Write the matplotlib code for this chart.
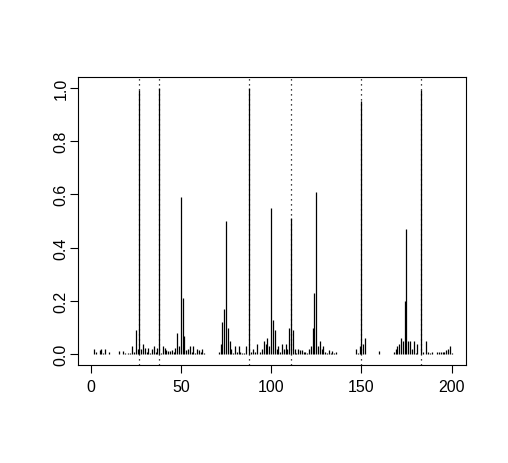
import numpy as np
import matplotlib
matplotlib.use("Agg")
import matplotlib.pyplot as plt

plt.rcParams['font.family'] = ['Liberation Sans', 'DejaVu Sans']

# posterior probability per position (type="h" spikes)
probs = [
    0.003, 0.02, 0.008, 0.003, 0.018, 0.02, 0.005, 0.02, 0.003, 0.01,
    0.003, 0.002, 0.002, 0.002, 0.003, 0.012, 0.003, 0.012, 0.004, 0.003,
    0.004, 0.005, 0.03, 0.008, 0.09, 0.02, 0.99, 0.02, 0.04, 0.025,
    0.01, 0.025, 0.005, 0.02, 0.03, 0.01, 0.025, 1.0, 0.005, 0.03,
    0.025, 0.015, 0.012, 0.012, 0.015, 0.01, 0.025, 0.08, 0.03, 0.59,
    0.21, 0.07, 0.015, 0.02, 0.03, 0.008, 0.03, 0.005, 0.02, 0.015,
    0.01, 0.02, 0.004, 0.003, 0.002, 0.002, 0.002, 0.003, 0.002, 0.003,
    0.01, 0.04, 0.12, 0.17, 0.50, 0.10, 0.05, 0.02, 0.005, 0.03,
    0.01, 0.03, 0.01, 0.005, 0.004, 0.03, 0.003, 1.0, 0.01, 0.02,
    0.01, 0.04, 0.003, 0.01, 0.02, 0.05, 0.04, 0.06, 0.03, 0.55,
    0.13, 0.09, 0.02, 0.03, 0.01, 0.04, 0.02, 0.04, 0.02, 0.10,
    0.51, 0.09, 0.02, 0.005, 0.02, 0.015, 0.015, 0.01, 0.01, 0.005,
    0.02, 0.03, 0.10, 0.23, 0.61, 0.03, 0.05, 0.02, 0.03, 0.01,
    0.005, 0.015, 0.005, 0.012, 0.004, 0.01, 0.003, 0.002, 0.002, 0.003,
    0.002, 0.002, 0.003, 0.002, 0.002, 0.003, 0.02, 0.005, 0.03, 0.95,
    0.04, 0.06, 0.003, 0.002, 0.002, 0.002, 0.002, 0.002, 0.002, 0.012,
    0.002, 0.002, 0.002, 0.002, 0.002, 0.002, 0.003, 0.01, 0.02, 0.03,
    0.04, 0.06, 0.05, 0.20, 0.47, 0.05, 0.05, 0.02, 0.05, 0.005,
    0.04, 0.003, 0.99, 0.01, 0.003, 0.05, 0.01, 0.004, 0.01, 0.003,
    0.003, 0.01, 0.01, 0.01, 0.01, 0.01, 0.015, 0.02, 0.03, 0.005,
]
positions = np.arange(1, len(probs) + 1)

# true change points (dotted verticals)
true_cps = [27, 38, 88, 111, 150, 183]

x_ticks = [0, 50, 100, 150, 200]
y_ticks = [0.0, 0.2, 0.4, 0.6, 0.8, 1.0]

fig = plt.figure(figsize=(5.08, 4.64), dpi=100)
ax = fig.add_axes([78 / 508, 1 - 366 / 464, 388 / 508, 288 / 464])

ax.vlines(positions, 0, probs, color='black', linewidth=0.9)
for cp in true_cps:
    ax.axvline(cp, color='black', linewidth=0.9, linestyle=(0, (1, 3)))

ax.set_xlim(1 - 0.04 * 199, 200 + 0.04 * 199)
ax.set_ylim(-0.04, 1.04)

ax.set_xticks(x_ticks)
ax.set_xticklabels([str(t) for t in x_ticks])
ax.set_yticks(y_ticks)
ax.set_yticklabels(['%.1f' % t for t in y_ticks], rotation=90, va='center')

ax.tick_params(direction='out', length=6, width=0.8, labelsize=11.5)
ax.tick_params(axis='x', pad=4)
ax.tick_params(axis='y', pad=1)
for s in ax.spines.values():
    s.set_linewidth(0.8)

fig.savefig('out.png', dpi=100)
